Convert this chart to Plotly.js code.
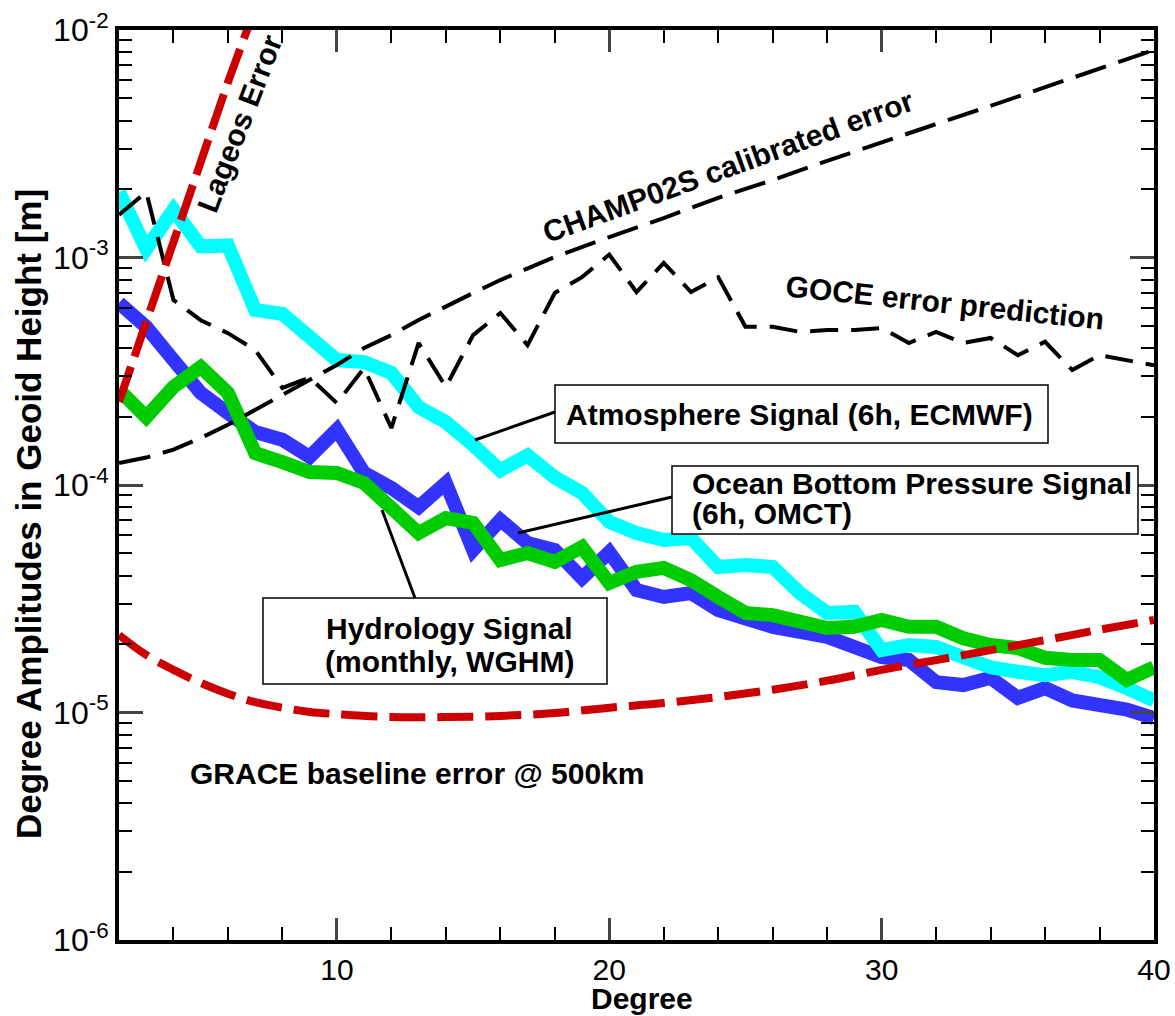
<!DOCTYPE html>
<html><head><meta charset="utf-8">
<script src="https://cdn.plot.ly/plotly-3.0.1.min.js"></script>
<style>html,body{margin:0;padding:0;background:#fff}</style>
</head><body><div id="chart" style="width:1175px;height:1016px"></div>
<script>
// ---- data ----
const degrees = [2,3,4,5,6,7,8,9,10,11,12,13,14,15,16,17,18,19,20,21,22,23,24,25,26,27,28,29,30,31,32,33,34,35,36,37,38,39,40];
const atmosphere = [1.94e-3,1.09e-3,1.62e-3,1.12e-3,1.13e-3,5.88e-4,5.65e-4,4.47e-4,3.54e-4,3.47e-4,3.11e-4,2.20e-4,1.89e-4,1.50e-4,1.16e-4,1.35e-4,1.08e-4,9.23e-5,6.88e-5,6.15e-5,5.73e-5,5.85e-5,4.36e-5,4.45e-5,4.36e-5,3.35e-5,2.74e-5,2.77e-5,1.88e-5,1.98e-5,1.94e-5,1.75e-5,1.58e-5,1.51e-5,1.46e-5,1.51e-5,1.43e-5,1.28e-5,1.13e-5];
const oceanBottom = [6.31e-4,4.95e-4,3.54e-4,2.54e-4,2.07e-4,1.71e-4,1.58e-4,1.33e-4,1.75e-4,1.13e-4,9.7e-5,8.0e-5,1.02e-4,5.18e-5,7.02e-5,5.56e-5,5.18e-5,3.90e-5,5.07e-5,3.45e-5,3.22e-5,3.35e-5,2.82e-5,2.55e-5,2.38e-5,2.26e-5,2.15e-5,1.94e-5,1.75e-5,1.70e-5,1.36e-5,1.32e-5,1.42e-5,1.16e-5,1.28e-5,1.13e-5,1.08e-5,1.03e-5,9.46e-6];
const hydrology = [2.62e-4,1.99e-4,2.70e-4,3.30e-4,2.54e-4,1.38e-4,1.26e-4,1.14e-4,1.13e-4,1.02e-4,7.93e-5,6.15e-5,7.16e-5,6.81e-5,4.68e-5,5.02e-5,4.59e-5,5.34e-5,3.71e-5,4.15e-5,4.32e-5,3.82e-5,3.22e-5,2.74e-5,2.68e-5,2.55e-5,2.35e-5,2.38e-5,2.55e-5,2.38e-5,2.38e-5,2.12e-5,1.98e-5,1.92e-5,1.74e-5,1.70e-5,1.70e-5,1.39e-5,1.58e-5];
const goceError = [1.54e-3,1.94e-3,6.5e-4,5.3e-4,4.65e-4,3.92e-4,2.67e-4,2.97e-4,2.29e-4,3.27e-4,1.78e-4,4.21e-4,2.70e-4,4.56e-4,5.7e-4,4.12e-4,6.98e-4,8.2e-4,1.03e-3,7.05e-4,9.46e-4,7.05e-4,8.2e-4,4.96e-4,4.96e-4,4.71e-4,4.8e-4,4.8e-4,4.9e-4,4.21e-4,4.71e-4,4.21e-4,4.43e-4,3.72e-4,4.26e-4,3.2e-4,3.72e-4,3.54e-4,3.36e-4];
const champDegrees = [2,3,4,5,6,7,8,9,10,11,12,13,14,15,16,18,20,22,24,26,28,30,32,34,36,38,40];
const champError = [1.25e-4,1.32e-4,1.43e-4,1.61e-4,1.84e-4,2.14e-4,2.49e-4,2.90e-4,3.37e-4,4.00e-4,4.56e-4,5.31e-4,6.12e-4,6.98e-4,7.96e-4,1.005e-3,1.23e-3,1.49e-3,1.83e-3,2.19e-3,2.66e-3,3.22e-3,3.86e-3,4.64e-3,5.61e-3,6.81e-3,8.17e-3];
const graceDegrees = [2,3,4,5,6,7,8,9,10,12,14,16,18,20,22,24,26,28,30,32,34,36,38,40];
const graceError = [2.19e-5,1.79e-5,1.54e-5,1.35e-5,1.21e-5,1.11e-5,1.05e-5,1.005e-5,9.84e-6,9.55e-6,9.55e-6,9.66e-6,9.95e-6,1.05e-5,1.10e-5,1.17e-5,1.26e-5,1.38e-5,1.54e-5,1.70e-5,1.88e-5,2.08e-5,2.31e-5,2.55e-5];
const lageosDegrees = [2,3,4,5,6,7];
const lageosError = [2.32e-4,5.26e-4,1.19e-3,2.73e-3,5.9e-3,1.25e-2];
const yTickVals = [1e-6,1e-5,1e-4,1e-3,1e-2];
const yTickText = ['10<sup>-6</sup>','10<sup>-5</sup>','10<sup>-4</sup>','10<sup>-3</sup>','10<sup>-2</sup>'];
const xTitle = 'Degree';
const yTitle = 'Degree Amplitudes in Geoid Height [m]';

// ---- layout helpers (pixel -> paper) ----
const ML = 119, MT = 30, PW = 1035, PH = 910;
const px = x => (x - ML) / PW;
const py = y => (MT + PH - y) / PH;

const minorY = [];
for (let e = -6; e < -2; e++) for (let m = 2; m <= 9; m++) minorY.push(m * Math.pow(10, e));

const FONT = 'Liberation Sans, Arial, Helvetica, sans-serif';
const traces = [
  {x: degrees, y: oceanBottom, mode: 'lines', line: {color: '#3333ff', width: 14}, name: 'Ocean Bottom Pressure Signal'},
  {x: degrees, y: atmosphere, mode: 'lines', line: {color: '#00ffff', width: 14}, name: 'Atmosphere Signal'},
  {x: degrees, y: hydrology, mode: 'lines', line: {color: '#00cc00', width: 14}, name: 'Hydrology Signal'},
  {x: champDegrees, y: champError, mode: 'lines', line: {color: '#000', width: 4, dash: '32px,13px'}, name: 'CHAMP02S calibrated error'},
  {x: degrees, y: goceError, mode: 'lines', line: {color: '#000', width: 4, dash: '28px,13px'}, name: 'GOCE error prediction'},
  {x: graceDegrees, y: graceError, mode: 'lines', line: {color: '#cc0000', width: 8, dash: '36px,12px', shape: 'spline'}, name: 'GRACE baseline error'},
  {x: lageosDegrees, y: lageosError, mode: 'lines', line: {color: '#cc0000', width: 8, dash: '37px,11px'}, name: 'Lageos Error'}
];

const bold = (size) => ({family: FONT, size: size, color: '#000', weight: 'bold'});
const ann = (text, x, y, angle, extra) => Object.assign({
  text: text, xref: 'paper', yref: 'paper', x: px(x), y: py(y), showarrow: false,
  textangle: angle || 0, font: bold(30), xanchor: 'center', yanchor: 'middle'
}, extra || {});

const layout = {
  width: 1175, height: 1016,
  margin: {l: ML, r: 1175 - ML - PW, t: MT, b: 1016 - MT - PH},
  paper_bgcolor: '#fff', plot_bgcolor: '#fff', showlegend: false,
  xaxis: {
    range: [2, 40], dtick: 10, tick0: 0, ticks: 'inside', ticklen: 22, tickwidth: 3,
    showline: true, linewidth: 4, linecolor: '#000', mirror: 'allticks', showgrid: false, zeroline: false,
    tickfont: {family: FONT, size: 30, color: '#000'},
    minor: {dtick: 2, tick0: 0, ticks: 'inside', ticklen: 13, tickwidth: 2, tickcolor: '#000', showgrid: false}
  },
  yaxis: {
    type: 'log', range: [-6, -2], tickmode: 'array', tickvals: yTickVals, ticktext: yTickText,
    ticks: 'inside', ticklen: 24, tickwidth: 3,
    showline: true, linewidth: 4, linecolor: '#000', mirror: 'allticks', showgrid: false, zeroline: false,
    tickfont: {family: FONT, size: 32, color: '#000'},
    minor: {tickmode: 'array', tickvals: minorY, ticks: 'inside', ticklen: 13, tickwidth: 2, tickcolor: '#000', showgrid: false}
  },
  shapes: [
    {type: 'rect', xref: 'paper', yref: 'paper', x0: px(555), x1: px(1048), y0: py(443), y1: py(385), line: {color: '#000', width: 1.5}, fillcolor: '#fff', layer: 'above'},
    {type: 'rect', xref: 'paper', yref: 'paper', x0: px(672), x1: px(1138), y0: py(534), y1: py(466), line: {color: '#000', width: 1.5}, fillcolor: '#fff', layer: 'above'},
    {type: 'rect', xref: 'paper', yref: 'paper', x0: px(263), x1: px(607), y0: py(684), y1: py(598), line: {color: '#000', width: 1.5}, fillcolor: '#fff', layer: 'above'},
    {type: 'line', xref: 'paper', yref: 'paper', x0: px(475), y0: py(440), x1: px(555), y1: py(412), line: {color: '#000', width: 3}, layer: 'above'},
    {type: 'line', xref: 'paper', yref: 'paper', x0: px(518), y0: py(533), x1: px(672), y1: py(497), line: {color: '#000', width: 3}, layer: 'above'},
    {type: 'line', xref: 'paper', yref: 'paper', x0: px(382), y0: py(510), x1: px(415), y1: py(598), line: {color: '#000', width: 3}, layer: 'above'}
  ],
  annotations: [
    ann(xTitle, 642, 1016, 0, {yanchor: 'bottom', font: bold(30), borderpad: 0}),
    ann(yTitle, 28, 514, -90, {font: bold(35)}),
    ann('Lageos Error', 240, 124, -69),
    ann('CHAMP02S calibrated error', 728, 166, -20),
    ann('GOCE error prediction', 945, 302, 6),
    ann('GRACE baseline error @ 500km', 417, 773, 0),
    ann('Atmosphere Signal (6h, ECMWF)', 799, 414, 0),
    ann('Ocean Bottom Pressure Signal', 690, 483, 0, {xanchor: 'left'}),
    ann('(6h, OMCT)', 690, 513, 0, {xanchor: 'left'}),
    ann('Hydrology Signal', 449, 628, 0),
    ann('(monthly, WGHM)', 449, 661, 0)
  ]
};

Plotly.newPlot('chart', traces, layout, {displayModeBar: false, staticPlot: true});
</script>
</body></html>
